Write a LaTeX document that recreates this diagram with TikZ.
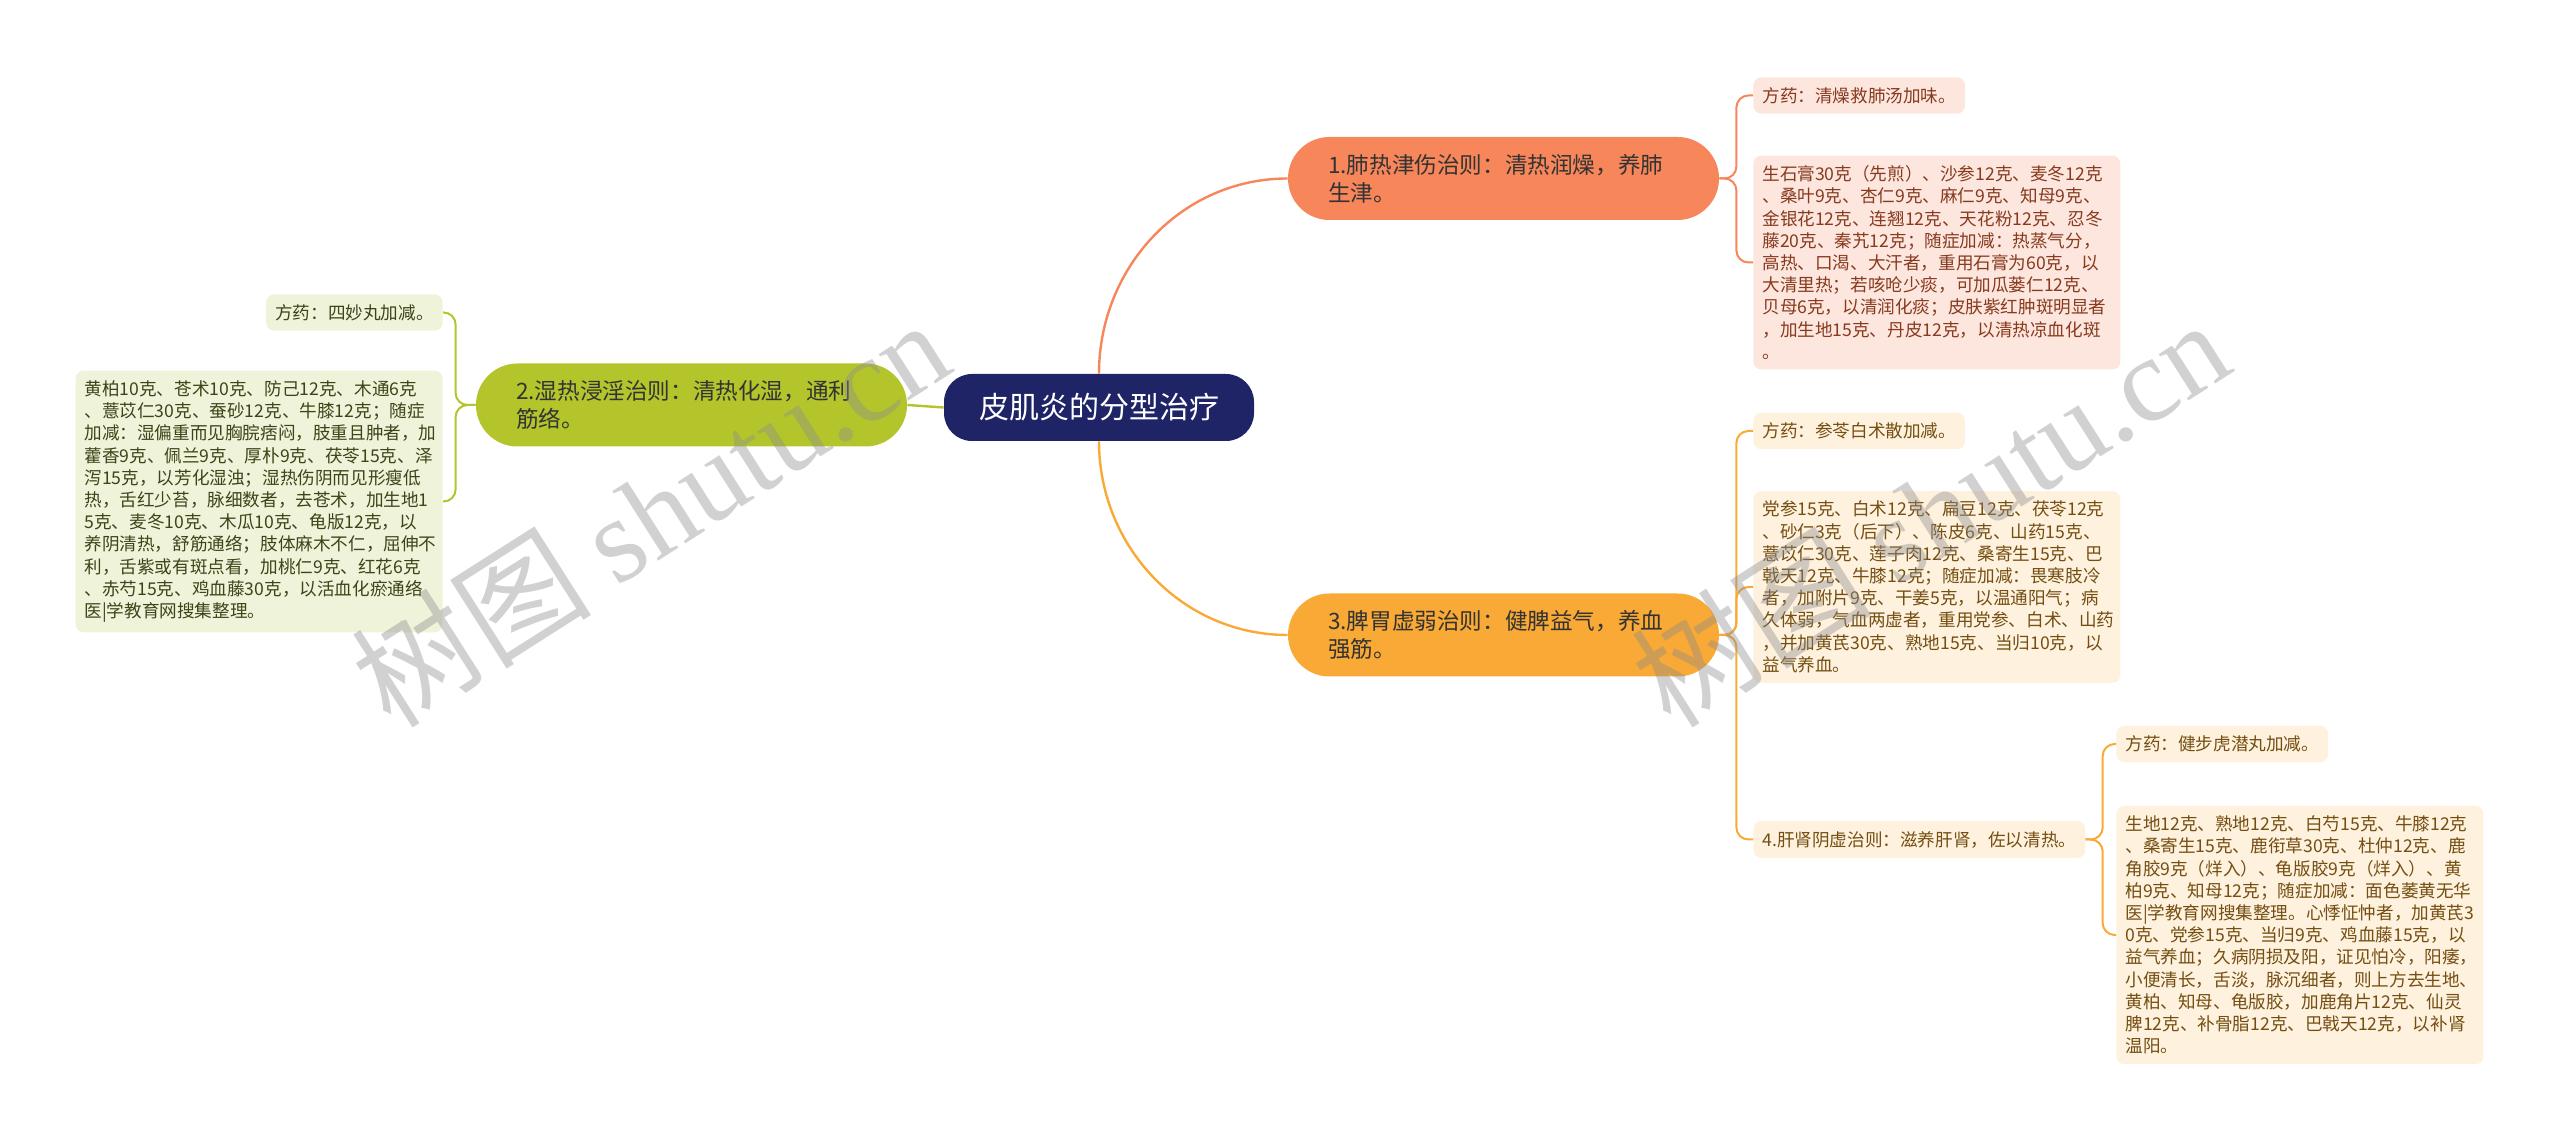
\documentclass[tikz,border=0pt]{standalone}
\usepackage{fontspec}
\setmainfont{Noto Sans CJK SC}
\newfontfamily\wmfont{Liberation Serif}
\usepackage{tikz}
\definecolor{rootc}{HTML}{1E2466}
\definecolor{bonec}{HTML}{F7865A}
\definecolor{btwoc}{HTML}{B4C52C}
\definecolor{bthreec}{HTML}{F9A935}
\definecolor{lonefill}{HTML}{FDE6DE}
\definecolor{ltwofill}{HTML}{EFF3DA}
\definecolor{lthreefill}{HTML}{FEF1DD}
\definecolor{lonetext}{HTML}{873A1E}
\definecolor{ltwotext}{HTML}{3E4318}
\definecolor{lthreetext}{HTML}{744E12}

\begin{document}
\begin{tikzpicture}[x=0.5pt, y=-0.5pt, every node/.style={inner sep=0pt, align=left},
  rootbox/.style={fill=rootc, text=white, font=\fontsize{15}{18}\selectfont, rounded corners=14pt, minimum width=155pt, minimum height=33.5pt, align=center},
  branch/.style={font=\fontsize{11.3}{14}\selectfont, text=black!80, rounded corners=20.7pt, minimum height=41.5pt, text width=175.5pt, inner xsep=20pt},
  leaf/.style={font=\fontsize{8.8}{11.1}\selectfont, rounded corners=4pt, inner xsep=4.5pt, inner ysep=5pt},
  longleaf/.style={leaf, text width=174.5pt},
  wire/.style={line width=1.2pt}, twig/.style={line width=1pt, rounded corners=6pt}]
\useasboundingbox (0,0) rectangle (2560,1143);

\node[rootbox] (root) at (1099,407.5) {皮肌炎的分型治疗};
\node[branch, fill=bonec] (b1) at (1503.5,178.5) {1.肺热津伤治则：清热润燥，养肺\\生津。};
\node[branch, fill=btwoc] (b2) at (691.5,405) {2.湿热浸淫治则：清热化湿，通利\\筋络。};
\node[branch, fill=bthreec] (b3) at (1503.5,635) {3.脾胃虚弱治则：健脾益气，养血\\强筋。};

\node[leaf, fill=lonefill, text=lonetext, anchor=west] (l1a) at (1753,95.5) {方药：清燥救肺汤加味。};
\node[longleaf, fill=lonefill, text=lonetext, anchor=west] (l1b) at (1753,262.5) {生石膏30克（先煎）、沙参12克、麦冬12克\\、桑叶9克、杏仁9克、麻仁9克、知母9克、\\金银花12克、连翘12克、天花粉12克、忍冬\\藤20克、秦艽12克；随症加减：热蒸气分，\\高热、口渴、大汗者，重用石膏为60克，以\\大清里热；若咳呛少痰，可加瓜蒌仁12克、\\贝母6克，以清润化痰；皮肤紫红肿斑明显者\\，加生地15克、丹皮12克，以清热凉血化斑\\。};

\node[leaf, fill=ltwofill, text=ltwotext, anchor=east] (l2a) at (443,312.5) {方药：四妙丸加减。};
\node[longleaf, fill=ltwofill, text=ltwotext, anchor=east] (l2b) at (443,501.5) {黄柏10克、苍术10克、防己12克、木通6克\\、薏苡仁30克、蚕砂12克、牛膝12克；随症\\加减：湿偏重而见胸脘痞闷，肢重且肿者，加\\藿香9克、佩兰9克、厚朴9克、茯苓15克、泽\\泻15克，以芳化湿浊；湿热伤阴而见形瘦低\\热，舌红少苔，脉细数者，去苍术，加生地1\\5克、麦冬10克、木瓜10克、龟版12克，以\\养阴清热，舒筋通络；肢体麻木不仁，屈伸不\\利，舌紫或有斑点看，加桃仁9克、红花6克\\、赤芍15克、鸡血藤30克，以活血化瘀通络\\医|学教育网搜集整理。};

\node[leaf, fill=lthreefill, text=lthreetext, anchor=west] (l3a) at (1753,431) {方药：参苓白术散加减。};
\node[longleaf, fill=lthreefill, text=lthreetext, anchor=west] (l3b) at (1753,587) {党参15克、白术12克、扁豆12克、茯苓12克\\、砂仁3克（后下）、陈皮6克、山药15克、\\薏苡仁30克、莲子肉12克、桑寄生15克、巴\\戟天12克、牛膝12克；随症加减：畏寒肢冷\\者，加附片9克、干姜5克，以温通阳气；病\\久体弱，气血两虚者，重用党参、白术、山药\\，并加黄芪30克、熟地15克、当归10克，以\\益气养血。};
\node[leaf, fill=lthreefill, text=lthreetext, anchor=west] (l34) at (1753,839.5) {4.肝肾阴虚治则：滋养肝肾，佐以清热。};
\node[leaf, fill=lthreefill, text=lthreetext, anchor=west] (l4a) at (2116,744) {方药：健步虎潜丸加减。};
\node[longleaf, fill=lthreefill, text=lthreetext, anchor=west] (l4b) at (2116,935) {生地12克、熟地12克、白芍15克、牛膝12克\\、桑寄生15克、鹿衔草30克、杜仲12克、鹿\\角胶9克（烊入）、龟版胶9克（烊入）、黄\\柏9克、知母12克；随症加减：面色萎黄无华\\医|学教育网搜集整理。心悸怔忡者，加黄芪3\\0克、党参15克、当归9克、鸡血藤15克，以\\益气养血；久病阴损及阳，证见怕冷，阳痿，\\小便清长，舌淡，脉沉细者，则上方去生地、\\黄柏、知母、龟版胶，加鹿角片12克、仙灵\\脾12克、补骨脂12克、巴戟天12克，以补肾\\温阳。};

\draw[wire, bonec] (root.north) to[out=90, in=180] (b1.west);
\draw[wire, bthreec] (root.south) to[out=-90, in=180] (b3.west);
\draw[wire, btwoc] (root.west) -- (b2.east);
\foreach \a/\b/\c in {b1/l1a/bonec, b1/l1b/bonec, b3/l3a/bthreec, b3/l3b/bthreec, b3/l34/bthreec, l34/l4a/bthreec, l34/l4b/bthreec}
  \draw[twig, \c] (\a.east) -- ++(8.5pt,0) |- (\b.west);
\foreach \b in {l2a, l2b}
  \draw[twig, btwoc] (b2.west) -- ++(-10pt,0) |- (\b.east);

\foreach \p in {(650,512), (1930,512)}
  \node[rotate=32.5, text=black!45, opacity=0.4, font=\fontsize{60}{64}\selectfont] at \p {树图 {\wmfont shutu.cn}};
\end{tikzpicture}
\end{document}
